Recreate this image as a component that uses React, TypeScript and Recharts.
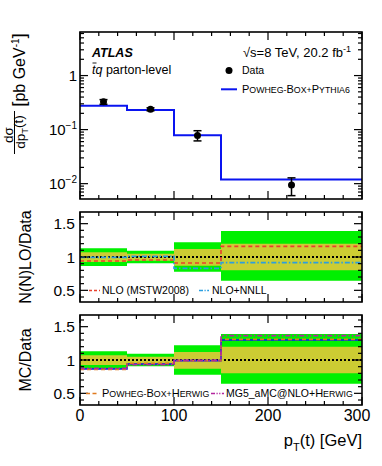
import React from "react";
import {
  ComposedChart,
  Line,
  Area,
  Scatter,
  ErrorBar,
  XAxis,
  YAxis,
  ReferenceLine,
} from "recharts";

// bins in p_T(t) [GeV]
const binEdges = [0, 50, 100, 150, 300];
const binCenters = [25, 75, 125, 225];

// top panel: dsigma/dpT [pb/GeV]
const dataXsec = [0.326, 0.238, 0.0774, 0.0094];
const dataErrLo = [0.032, 0.015, 0.0156, 0.0034];
const dataErrHi = [0.033, 0.015, 0.018, 0.0034];
const powhegPythia6Xsec = [0.275, 0.231, 0.0785, 0.0119];

// data uncertainty bands (ratio)
const totUncHi = [1.13, 1.095, 1.22, 1.39];
const totUncLo = [0.865, 0.905, 0.78, 0.645];
const statUncHi = [1.07, 1.05, 1.12, 1.2];
const statUncLo = [0.925, 0.945, 0.87, 0.8];

// N(N)LO / data
const nloRatio = [0.94, 0.955, 0.91, 1.16];
const nloNnllRatio = [0.995, 1.01, 0.83, 0.915];

// MC / data
const powhegPythia6Ratio = [0.865, 0.94, 0.99, 1.3];
const powhegHerwigRatio = [0.86, 0.95, 0.99, 1.31];
const mg5HerwigRatio = [0.875, 0.93, 0.995, 1.365];

const xTicks = [0, 20, 40, 60, 80, 100, 120, 140, 160, 180, 200, 220, 240, 260, 280, 300];
const xMajor = [0, 100, 200, 300];
const logTicks = [
  0.006, 0.007, 0.008, 0.009, 0.01, 0.02, 0.03, 0.04, 0.05, 0.06, 0.07, 0.08, 0.09,
  0.1, 0.2, 0.3, 0.4, 0.5, 0.6, 0.7, 0.8, 0.9, 1, 2, 3, 4, 5, 6,
];
const logMajor = [0.01, 0.1, 1];
const ratioTicks = [0.4, 0.5, 0.6, 0.7, 0.8, 0.9, 1, 1.1, 1.2, 1.3, 1.4, 1.5, 1.6];
const ratioMajor = [0.5, 1, 1.5];

// layout (page pixels)
const W = 382;
const H = 466;
const PL = 80;
const PR = 362;
const P1 = { top: 32, bottom: 199 };
const P2 = { top: 212, bottom: 302 };
const P3 = { top: 315, bottom: 405 };
const FONT = "'Liberation Sans', Arial, Helvetica, sans-serif";

const stepRows = binEdges.map((x, i) => {
  const j = Math.min(i, binCenters.length - 1);
  return {
    x,
    mc: powhegPythia6Xsec[j],
    totLo: totUncLo[j],
    totHi: totUncHi[j],
    statLo: statUncLo[j],
    statHi: statUncHi[j],
    nlo: nloRatio[j],
    nnll: nloNnllRatio[j],
    pp6: powhegPythia6Ratio[j],
    phw: powhegHerwigRatio[j],
    mg5: mg5HerwigRatio[j],
  };
});

const dataPts = binCenters.map((x, i) => ({
  x,
  y: dataXsec[i],
  err: [dataErrLo[i], dataErrHi[i]],
}));

function xTick(top: number, bottom: number, labels: boolean) {
  return (p: any) => {
    const v = p.payload.value;
    const major = xMajor.includes(v);
    const len = major ? 8 : 4;
    const x = p.x;
    return (
      <g>
        <line x1={x} x2={x} y1={bottom} y2={bottom - len} stroke="#000" strokeWidth={1.2} />
        <line x1={x} x2={x} y1={top} y2={top + len} stroke="#000" strokeWidth={1.2} />
        {labels && major && (
          <text
            x={v === 300 ? x - 5 : x}
            y={bottom + 16}
            textAnchor="middle"
            fontSize={16}
            fontFamily={FONT}
            fill="#000"
          >
            {v}
          </text>
        )}
      </g>
    );
  };
}

function yTick(majors: number[], label: (v: number, y: number) => React.ReactNode) {
  return (p: any) => {
    const v = p.payload.value;
    const major = majors.some((m) => Math.abs(m - v) < 1e-9);
    const len = major ? 8 : 4;
    const y = p.y;
    return (
      <g>
        <line x1={PL} x2={PL + len} y1={y} y2={y} stroke="#000" strokeWidth={1.2} />
        <line x1={PR} x2={PR - len} y1={y} y2={y} stroke="#000" strokeWidth={1.2} />
        {major && label(v, y)}
      </g>
    );
  };
}

const logLabel = (v: number, y: number) =>
  v === 1 ? (
    <text x={77} y={y + 5} textAnchor="end" fontSize={15} fontFamily={FONT}>
      1
    </text>
  ) : (
    <text x={77} y={y + 5} textAnchor="end" fontSize={15} fontFamily={FONT}>
      10
      <tspan fontSize={10} dy={-6}>
        {"\u2212" + Math.round(-Math.log10(v))}
      </tspan>
    </text>
  );

const ratioLabel = (v: number, y: number) => (
  <text x={75} y={y + 5.5} textAnchor="end" fontSize={15.5} fontFamily={FONT}>
    {v}
  </text>
);

function SmallCaps({ parts, x, y, big = 11, small = 8.8 }: any) {
  return (
    <text x={x} y={y} fontFamily={FONT} fill="#000">
      {parts.map((s: string, i: number) => (
        <tspan key={i} fontSize={i % 2 === 0 ? big : small}>
          {s}
        </tspan>
      ))}
    </text>
  );
}

function Overlay() {
  return (
    <svg
      width={W}
      height={H}
      style={{ position: "absolute", left: 0, top: 0, pointerEvents: "none" }}
    >
      {[P1, P2, P3].map((p, i) => (
        <rect
          key={i}
          x={PL}
          y={p.top}
          width={PR - PL}
          height={p.bottom - p.top}
          fill="none"
          stroke="#000"
          strokeWidth={1.6}
        />
      ))}

      {/* top panel texts */}
      <text x={92} y={57} fontSize={12.5} fontWeight="bold" fontStyle="italic" fontFamily={FONT}>
        ATLAS
      </text>
      <text x={92} y={74} fontSize={12.5} fontFamily={FONT}>
        <tspan fontStyle="italic">tq</tspan> parton-level
      </text>
      <line x1={92.5} x2={96.5} y1={63} y2={63} stroke="#000" strokeWidth={0.9} />
      <text x={351} y={57} textAnchor="end" fontSize={13} fontFamily={FONT}>
        {"\u221As=8 TeV, 20.2 fb"}
        <tspan fontSize={9} dy={-5}>
          -1
        </tspan>
      </text>
      <circle cx={229} cy={70.5} r={3.5} fill="#000" />
      <text x={242} y={74.3} fontSize={10.5} fontFamily={FONT}>
        Data
      </text>
      <line x1={221} x2={237} y1={89.3} y2={89.3} stroke="#0a14f0" strokeWidth={2} />
      <SmallCaps parts={["P", "OWHEG-", "B", "OX+", "P", "YTHIA6"]} x={242} y={93} />

      {/* middle legend */}
      <line x1={89} x2={100} y1={290.5} y2={290.5} stroke="#e8402c" strokeWidth={1.5} strokeDasharray="3 2" />
      <text x={102} y={294} fontSize={10.5} fontFamily={FONT}>
        NLO (MSTW2008)
      </text>
      <line x1={199} x2={209} y1={290.5} y2={290.5} stroke="#2a9ee0" strokeWidth={1.5} strokeDasharray="4 1.5 1.2 1.5" />
      <text x={212} y={294} fontSize={10.5} fontFamily={FONT}>
        NLO+NNLL
      </text>

      {/* bottom legend */}
      <line x1={86} x2={99} y1={393.5} y2={393.5} stroke="#e07a1e" strokeWidth={1.5} strokeDasharray="4 2.5" />
      <SmallCaps parts={["P", "OWHEG-", "B", "OX+", "H", "ERWIG"]} x={102} y={397} />
      <line x1={211} x2={224} y1={393.5} y2={393.5} stroke="#b4269e" strokeWidth={1.5} strokeDasharray="4 1.5 1.2 1.5 1.2 1.5" />
      <text fontFamily={FONT} x={226} y={397}>
        <tspan fontSize={10.5}>MG5_aMC@NLO+</tspan>
        <tspan fontSize={11}>H</tspan>
        <tspan fontSize={8.8}>ERWIG</tspan>
      </text>

      {/* axis titles */}
      <text x={362} y={446} textAnchor="end" fontSize={16.5} fontFamily={FONT}>
        p<tspan fontSize={11} dy={5}>T</tspan>
        <tspan dy={-5}>(t) [GeV]</tspan>
      </text>
      <g transform="rotate(-90)">
        <text x={-257} y={31} textAnchor="middle" fontSize={16} fontFamily={FONT}>
          N(N)LO/Data
        </text>
        <text x={-360} y={31} textAnchor="middle" fontSize={16} fontFamily={FONT}>
          MC/Data
        </text>
        <text x={-135} y={12.5} textAnchor="middle" fontSize={13.5} fontFamily={FONT}>
          d{"\u03C3"}
        </text>
        <line x1={-154} x2={-111} y1={14.5} y2={14.5} stroke="#000" strokeWidth={1} />
        <text x={-132} y={25} textAnchor="middle" fontSize={13.5} fontFamily={FONT}>
          dp<tspan fontSize={9.5} dy={3}>T</tspan>
          <tspan dy={-5}>(t)</tspan>
        </text>
        <text x={-70} y={25} textAnchor="middle" fontSize={16} fontFamily={FONT}>
          <tspan fontSize={19}>[</tspan>pb GeV
          <tspan fontSize={10} dy={-6}>-1</tspan>
          <tspan fontSize={19} dy={6}>]</tspan>
        </text>
      </g>
    </svg>
  );
}

const dotted = { stroke: "#000", strokeWidth: 1.8, strokeDasharray: "2 2" };

export default function App() {
  return (
    <div style={{ position: "absolute", left: 0, top: 0, width: W, height: H, background: "#fff" }}>
      {/* top panel */}
      <div style={{ position: "absolute", left: 0, top: 0 }}>
        <ComposedChart
          width={W}
          height={P1.bottom + 10}
          margin={{ top: P1.top, right: W - PR, left: 0, bottom: 0 }}
        >
          <XAxis
            type="number"
            dataKey="x"
            domain={[0, 300]}
            allowDataOverflow
            ticks={xTicks}
            interval={0}
            height={10}
            axisLine={false}
            tickLine={false}
            tick={xTick(P1.top, P1.bottom, false)}
          />
          <YAxis
            type="number"
            scale="log"
            domain={[0.0052, 6.4]}
            allowDataOverflow
            ticks={logTicks}
            interval={0}
            width={PL}
            axisLine={false}
            tickLine={false}
            tick={yTick(logMajor, logLabel)}
          />
          <Line
            data={stepRows}
            dataKey="mc"
            type="stepAfter"
            stroke="#0a14f0"
            strokeWidth={2}
            dot={false}
            isAnimationActive={false}
          />
          <Scatter
            data={dataPts}
            dataKey="y"
            isAnimationActive={false}
            shape={(p: any) => <circle cx={p.cx} cy={p.cy} r={3.5} fill="#000" />}
          >
            <ErrorBar dataKey="err" direction="y" width={4} stroke="#000" strokeWidth={1.5} />
          </Scatter>
        </ComposedChart>
      </div>

      {/* N(N)LO / data */}
      <div style={{ position: "absolute", left: 0, top: 0 }}>
        <ComposedChart
          width={W}
          height={P2.bottom + 10}
          data={stepRows}
          margin={{ top: P2.top, right: W - PR, left: 0, bottom: 0 }}
        >
          <XAxis
            type="number"
            dataKey="x"
            domain={[0, 300]}
            allowDataOverflow
            ticks={xTicks}
            interval={0}
            height={10}
            axisLine={false}
            tickLine={false}
            tick={xTick(P2.top, P2.bottom, false)}
          />
          <YAxis
            type="number"
            domain={[0.325, 1.675]}
            allowDataOverflow
            ticks={ratioTicks}
            interval={0}
            width={PL}
            axisLine={false}
            tickLine={false}
            tick={yTick(ratioMajor, ratioLabel)}
          />
          <Area
            dataKey={(d: any) => [d.totLo, d.totHi]}
            type="stepAfter"
            fill="#00f000"
            fillOpacity={1}
            stroke="none"
            isAnimationActive={false}
          />
          <Area
            dataKey={(d: any) => [d.statLo, d.statHi]}
            type="stepAfter"
            fill="#cccc33"
            fillOpacity={1}
            stroke="none"
            isAnimationActive={false}
          />
          <ReferenceLine y={1} {...dotted} />
          <Line
            dataKey="nlo"
            type="stepAfter"
            stroke="#e8402c"
            strokeWidth={1.6}
            strokeDasharray="4 3"
            dot={false}
            isAnimationActive={false}
          />
          <Line
            dataKey="nnll"
            type="stepAfter"
            stroke="#2a9ee0"
            strokeWidth={1.6}
            strokeDasharray="5 2 1.5 2"
            dot={false}
            isAnimationActive={false}
          />
        </ComposedChart>
      </div>

      {/* MC / data */}
      <div style={{ position: "absolute", left: 0, top: 0 }}>
        <ComposedChart
          width={W}
          height={H}
          data={stepRows}
          margin={{ top: P3.top, right: W - PR, left: 0, bottom: 0 }}
        >
          <XAxis
            type="number"
            dataKey="x"
            domain={[0, 300]}
            allowDataOverflow
            ticks={xTicks}
            interval={0}
            height={H - P3.bottom}
            axisLine={false}
            tickLine={false}
            tick={xTick(P3.top, P3.bottom, true)}
          />
          <YAxis
            type="number"
            domain={[0.325, 1.675]}
            allowDataOverflow
            ticks={ratioTicks}
            interval={0}
            width={PL}
            axisLine={false}
            tickLine={false}
            tick={yTick(ratioMajor, ratioLabel)}
          />
          <Area
            dataKey={(d: any) => [d.totLo, d.totHi]}
            type="stepAfter"
            fill="#00f000"
            fillOpacity={1}
            stroke="none"
            isAnimationActive={false}
          />
          <Area
            dataKey={(d: any) => [d.statLo, d.statHi]}
            type="stepAfter"
            fill="#cccc33"
            fillOpacity={1}
            stroke="none"
            isAnimationActive={false}
          />
          <ReferenceLine y={1} {...dotted} />
          <Line
            dataKey="pp6"
            type="stepAfter"
            stroke="#0a14f0"
            strokeWidth={1.6}
            dot={false}
            isAnimationActive={false}
          />
          <Line
            dataKey="phw"
            type="stepAfter"
            stroke="#e07a1e"
            strokeWidth={1.6}
            strokeDasharray="4 3"
            dot={false}
            isAnimationActive={false}
          />
          <Line
            dataKey="mg5"
            type="stepAfter"
            stroke="#b4269e"
            strokeWidth={1.6}
            strokeDasharray="5 2 1.5 2 1.5 2"
            dot={false}
            isAnimationActive={false}
          />
        </ComposedChart>
      </div>

      <Overlay />
    </div>
  );
}
